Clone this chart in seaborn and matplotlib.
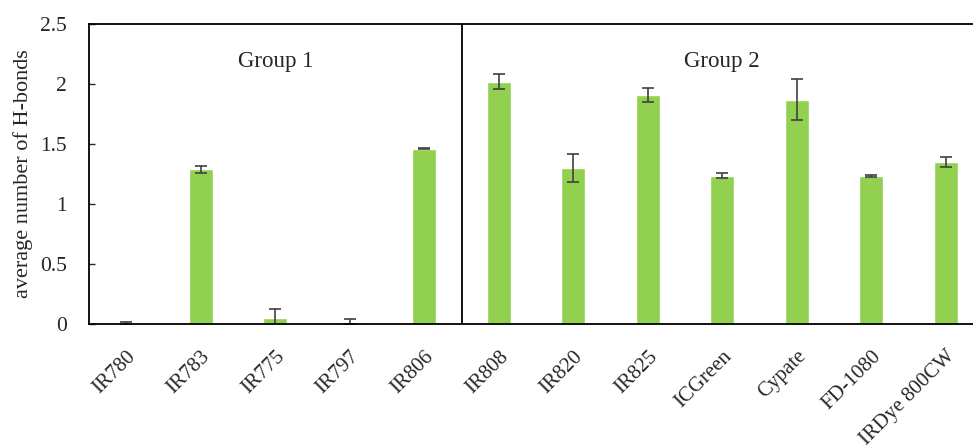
import numpy as np
import pandas as pd
import matplotlib
matplotlib.use("Agg")
import matplotlib.pyplot as plt
import seaborn as sns

# datos
dyes = ["IR780", "IR783", "IR775", "IR797", "IR806", "IR808", "IR820",
        "IR825", "ICGreen", "Cypate", "FD-1080", "IRDye 800CW"]
hbonds = [0.005, 1.29, 0.05, 0.02, 1.46, 2.02, 1.30, 1.91, 1.235, 1.87, 1.235, 1.35]
hbonds_err = [0.01, 0.03, 0.075, 0.02, 0.005, 0.06, 0.12, 0.06, 0.02, 0.17, 0.01, 0.04]
group_labels = ["Group 1", "Group 2"]
group_size = 5  # primeros 5 colorantes = Group 1

df = pd.DataFrame({"dye": dyes, "hbonds": hbonds, "err": hbonds_err})

sns.set_style("white")
plt.rcParams["font.family"] = ["Liberation Serif", "DejaVu Serif"]

fig = plt.figure(figsize=(9.73, 4.46), dpi=100)
ax = fig.add_axes([89 / 973, 122 / 446, 894 / 973, 300 / 446])

sns.barplot(data=df, x="dye", y="hbonds", color="#92D050", width=0.32,
            errorbar=None, saturation=1, ax=ax)
xpos = np.arange(len(dyes))
ax.errorbar(xpos, df["hbonds"], yerr=df["err"], fmt="none",
            ecolor="#404040", elinewidth=1.2, capsize=4, capthick=1.2)

# separador de grupos
ax.axvline(group_size - 0.5, color="black", lw=1.3)
ax.text((group_size - 1) / 2, 2.19, group_labels[0], ha="center", va="center", fontsize=16.5)
ax.text(group_size + (len(dyes) - group_size - 1) / 2, 2.19, group_labels[1],
        ha="center", va="center", fontsize=16.5)

ax.set_ylim(0, 2.5)
ax.set_xlim(-0.5, len(dyes) - 0.5)
ax.set_yticks([0, 0.5, 1, 1.5, 2, 2.5])
ax.set_yticklabels(["0", "0.5", "1", "1.5", "2", "2.5"])
ax.set_xlabel("")
ax.set_ylabel("average number of H-bonds", fontsize=16)
ax.yaxis.set_label_coords(-0.063, 0.5)
ax.tick_params(axis="y", labelsize=15.5, left=True, direction="in", length=4, width=1, pad=16)
ax.tick_params(axis="x", labelsize=15, bottom=False, pad=13)
plt.setp(ax.get_xticklabels(), rotation=45, ha="right", rotation_mode="anchor")

for s in ax.spines.values():
    s.set_color("black")
    s.set_linewidth(1.3)

fig.savefig("out.png", dpi=100)
